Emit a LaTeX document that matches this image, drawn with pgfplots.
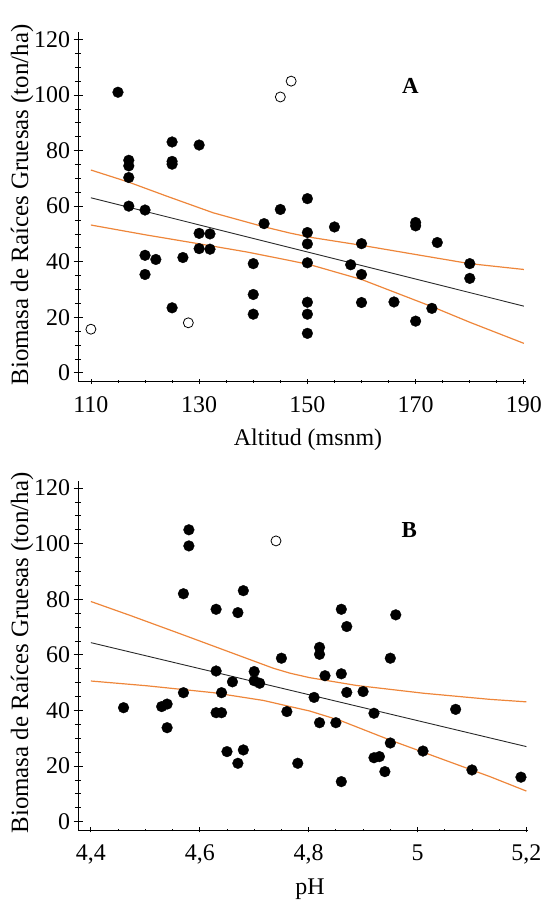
\documentclass[border=0pt]{standalone}
\usepackage{fontspec}
\setmainfont{Liberation Serif}
\usepackage{pgfplots}
\pgfplotsset{compat=1.18}

\definecolor{bandorange}{RGB}{238,134,58}
\definecolor{fitgray}{RGB}{40,40,40}

\pgfplotsset{
  panel/.style={
    scale only axis, anchor=south west,
    axis lines=left, axis line style={-, line width=0.9bp},
    tick style={line width=0.8bp, black},
    major tick length=9bp, minor tick length=6.5bp,
    ytick={0,20,...,120}, minor y tick num=3,
    xtick style={draw=none},
    ticklabel style={font=\fontsize{24}{24}\selectfont},
    xticklabel style={yshift=-7bp},
    /pgf/number format/assume math mode=true,
    clip=false,
  },
  xticks/.style={
    scale only axis, anchor=south west,
    axis x line=bottom, axis y line=none, axis line style={-, line width=0.9bp},
    ytick=\empty, xticklabels={},
    minor x tick num=3, major tick length=5bp, minor tick length=2.5bp,
    tick style={line width=0.8bp, black},
  },
  dot/.style={only marks, mark=*, mark size=5.4bp, black, mark options={fill=black, draw=black, line width=0.3bp}},
  hollow/.style={only marks, mark=o, mark size=5bp, black, mark options={draw=black, line width=0.8bp, fill=white}},
  fit/.style={fitgray, line width=0.9bp},
  band/.style={bandorange, line width=1.2bp},
}

\begin{document}
\begin{tikzpicture}
\useasboundingbox (0,0) rectangle (544bp,900bp);

% ---- A: altitud ----
\begin{axis}[panel, at={(78.1bp,518.3bp)}, width=448bp, height=350bp,
  xmin=107.635, xmax=190.41, ymin=-3.2, ymax=122.8,
  xtick={110,130,150,170,190}]
\addplot[fit] coordinates {(110,63) (190,24)};
\addplot[band] coordinates {
  (110,73.0) (116.9,68.7) (124,63.6) (132.6,57.6) (141.9,52.6) (146.8,50.3)
  (150.5,48.8) (160,45.9) (173.3,41.5) (180,39.3) (190,37.2)};
\addplot[band] coordinates {
  (110,53.2) (120.3,49.6) (129.5,46.6) (138.8,43.5) (146.8,40.4) (150.5,38.9)
  (160,33.6) (173.3,23.6) (180,18.2) (190,10.6)};
\addplot[dot] coordinates {
  (115,101) (117,76.5) (117,74.5) (117,70.3) (117,60) (120,58.6) (120,42.3)
  (120,35.4) (122,40.8) (125,83.1) (125,76.1) (125,75.1) (125,23.4) (127,41.5)
  (130,82) (130,50.2) (130,44.7) (132,50) (132,44.5) (140,39.3) (140,28.2)
  (140,21.1) (142,53.7) (145,58.8) (150,62.7) (150,50.5) (150,46.4) (150,39.6)
  (150,25.4) (150,21.1) (150,14.2) (155,52.5) (158,38.9) (160,46.5) (160,35.4)
  (160,25.3) (166,25.5) (170,54.1) (170,52.9) (170,18.6) (173,23.2) (174,46.9)
  (180,39.3) (180,34)};
\addplot[hollow] coordinates {(110,15.7) (128,18) (145,99.3) (147,105)};
\node[font=\bfseries\fontsize{23}{23}\selectfont] at (axis cs:169.05,103.1) {A};
\end{axis}
\begin{axis}[xticks, at={(78.1bp,518.3bp)}, width=448bp, height=350bp,
  xmin=107.635, xmax=190.41, ymin=-3.2, ymax=122.8,
  xtick={110,130,150,170,190}]
\end{axis}

% ---- B: pH ----
\begin{axis}[panel, at={(78.1bp,70bp)}, width=449.4bp, height=349.4bp,
  xmin=4.3765, xmax=5.202, ymin=-3.0, ymax=122.7,
  xtick={4.4,4.6,4.8,5.0,5.2}, xticklabels={{4,4},{4,6},{4,8},5,{5,2}}]
\addplot[fit] coordinates {(4.4,64.4) (5.2,27)};
\addplot[band] coordinates {
  (4.4,79.2) (4.472,74.2) (4.564,67.6) (4.655,61.0) (4.735,55.2) (4.766,53.4)
  (4.802,51.8) (4.888,49.0) (5.011,46.2) (5.133,44.0) (5.2,43.1)};
\addplot[band] coordinates {
  (4.4,50.6) (4.502,48.9) (4.625,46.4) (4.717,43.6) (4.766,41.4) (4.802,39.8)
  (4.858,36.4) (4.949,29.4) (5.041,22.8) (5.133,16.2) (5.2,11.0)};
\addplot[dot] coordinates {
  (4.46,41) (4.53,41.4) (4.54,42.3) (4.54,33.8) (4.57,46.4) (4.57,82)
  (4.58,105) (4.58,99.2) (4.63,76.4) (4.63,54.2) (4.63,39.2) (4.64,39.2)
  (4.64,46.4) (4.65,25.2) (4.66,50.3) (4.67,75.2) (4.67,21) (4.68,83.1)
  (4.68,25.8) (4.70,54) (4.70,50.7) (4.71,49.8) (4.75,58.8) (4.76,39.6)
  (4.78,21) (4.81,44.7) (4.82,62.7) (4.82,60.2) (4.82,35.6) (4.83,52.5)
  (4.85,35.6) (4.86,76.4) (4.86,53.2) (4.86,14.4) (4.87,70.2) (4.87,46.5)
  (4.90,46.8) (4.92,39) (4.92,23) (4.93,23.4) (4.94,18) (4.95,58.8)
  (4.95,28.3) (4.96,74.4) (5.01,25.4) (5.07,40.4) (5.10,18.6) (5.19,16)};
\addplot[hollow] coordinates {(4.74,101)};
\node[font=\bfseries\fontsize{23}{23}\selectfont] at (axis cs:4.985,104.9) {B};
\end{axis}
\begin{axis}[xticks, at={(78.1bp,70bp)}, width=449.4bp, height=349.4bp,
  xmin=4.3765, xmax=5.202, ymin=-3.0, ymax=122.7,
  xtick={4.4,4.6,4.8,5.0,5.2}]
\end{axis}

% axis titles
\node[rotate=90, font=\fontsize{25}{25}\selectfont] at (22bp,695bp) {Biomasa de Raíces Gruesas (ton/ha)};
\node[rotate=90, font=\fontsize{25}{25}\selectfont] at (22bp,247bp) {Biomasa de Raíces Gruesas (ton/ha)};
\node[font=\fontsize{24}{24}\selectfont] at (308bp,460bp) {Altitud (msnm)};
\node[font=\fontsize{24}{24}\selectfont] at (310bp,11bp) {pH};
\end{tikzpicture}
\end{document}
